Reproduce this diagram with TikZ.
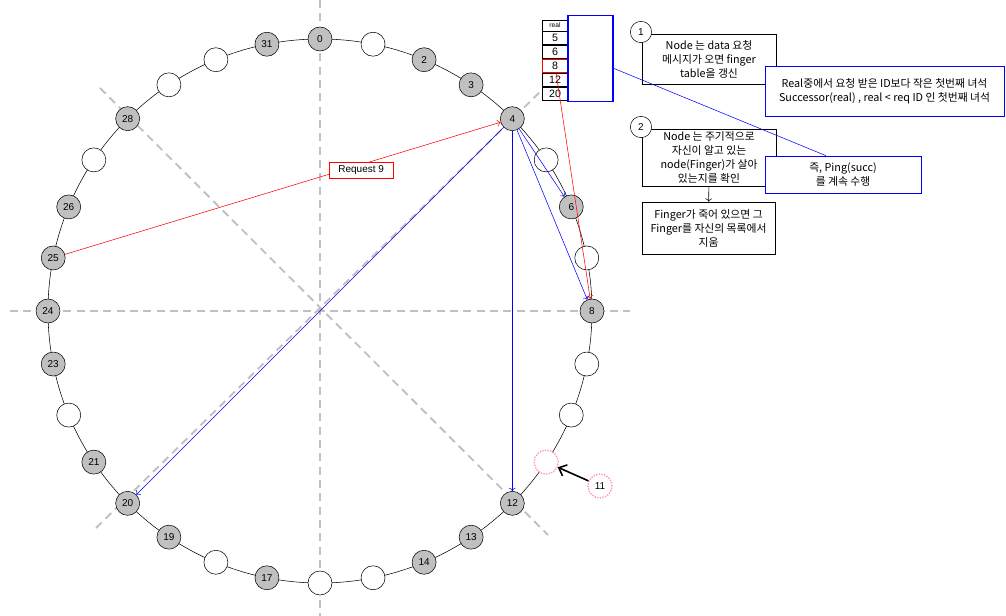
\documentclass[tikz,border=0pt]{standalone}
\usepackage{fontspec}
\setmainfont{Liberation Sans}
\newfontfamily\kr{Noto Sans CJK KR}
\usetikzlibrary{positioning,arrows.meta}
\definecolor{guidegray}{RGB}{192,192,192}
\definecolor{peergray}{RGB}{192,192,192}
\definecolor{newpink}{RGB}{255,140,200}

\begin{document}
\begin{tikzpicture}[x=0.75pt,y=-0.75pt]
	\tikzset{peer/.style = {shape=circle, draw, fill=peergray, minimum size=18pt, inner sep=0pt, font=\fontsize{7.5}{8}\selectfont},
		hole/.style = {shape=circle, draw, fill=white, minimum size=18pt, inner sep=0pt},
		joiner/.style = {hole, draw=newpink, densely dotted, line width=1pt, font=\fontsize{7.5}{8}\selectfont},
		guide/.style = {draw=guidegray, line width=1.4pt, dash pattern=on 6pt off 4pt},
		cell/.style = {draw, fill=white, minimum width=19.5pt, minimum height=10pt, inner sep=0pt, font=\fontsize{8}{9}\selectfont},
		note/.style = {draw, fill=white, align=center, inner sep=0pt, font=\kr\fontsize{8.1}{10.5}\selectfont},
		stepno/.style = {shape=circle, draw, fill=white, minimum size=16pt, inner sep=0pt, font=\fontsize{7.5}{8}\selectfont}}

	\useasboundingbox (0,0) rectangle (1006,616);

	\draw[guide] (320,0) -- (320,616);
	\draw[guide] (10,311) -- (630,311);
	\draw[guide] (100,88) -- (548,535);
	\draw[guide] (96,528) -- (548,84);

	\draw (320,311) circle [radius=272];

	\foreach \k in {0,2,3,4,6,8,12,13,14,17,19,20,21,23,24,25,26,28,31}
		\node[peer] (n\k) at ({320+272*sin(\k*11.25)},{311-272*cos(\k*11.25)}) {\k};
	\foreach \k in {1,5,7,9,10,15,16,18,22,27,29,30}
		\node[hole] (n\k) at ({320+272*sin(\k*11.25)},{311-272*cos(\k*11.25)}) {};
	\node[joiner] (n11) at ({320+272*sin(123.75)},{311-272*cos(123.75)}) {};
	\node[joiner] (new) at (600,486) {11};
	\draw[-{Straight Barb[length=5pt,width=9pt]}, line width=1.2pt] (new) -- (n11);

	\draw[red,->] (n25) -- node[draw=red, fill=white, text=black, minimum width=48pt, minimum height=12pt, inner sep=0pt, font=\fontsize{7.5}{8}\selectfont, pos=0.68, yshift=-4pt] {Request 9} (n4);

	\draw[blue,->] (n4) -- (n6);
	\draw[blue,->] (n4) -- (n8);
	\draw[blue,->] (n4) -- (n12);
	\draw[blue,->] (n4) -- (n20);

	\node[cell, minimum height=8pt, font=\fontsize{5}{6}\selectfont] (freal) at (555,25.5) {real};
	\node[cell, below=0pt of freal] (f5) {5};
	\node[cell, below=0pt of f5] (f6) {6};
	\node[cell, below=0pt of f6, draw=red] (f8) {8};
	\node[cell, below=0pt of f8] (f12) {12};
	\node[cell, below=0pt of f12] (f20) {20};
	\node[draw=blue, line width=0.9pt, minimum width=33.75pt, minimum height=65pt, inner sep=0pt] (fbox) at (590.5,58.5) {};
	\draw[red,->] (f8) -- (n8);

	\node[note, minimum width=100.5pt, minimum height=37.5pt] (b1) at (709,59) {Node 는 data 요청\\메시지가 오면 finger\\table을 갱신};
	\node[stepno] (s1) at (641,32) {1};
	\node[note, draw=blue, minimum width=179pt, minimum height=37.5pt] (succ) at (884.5,91) {Real중에서 요청 받은 ID보다 작은 첫번째 녀석\\Successor(real) , real < req ID 인 첫번째 녀석};

	\node[note, minimum width=100.5pt, minimum height=42.75pt] (b2) at (709,157.5) {Node 는 주기적으로\\자신이 알고 있는\\node(Finger)가 살아\\있는지를 확인};
	\node[stepno] (s2) at (641,127) {2};
	\node[note, draw=blue, minimum width=117pt, minimum height=27.75pt] (ping) at (843,174.5) {즉, Ping(succ)\\를 계속 수행};
	\node[note, minimum width=99.75pt, minimum height=39pt] (b3) at (708.5,228) {Finger가 죽어 있으면 그\\Finger를 자신의 목록에서\\지움};
	\draw[->] (b2) -- (b3);

	\draw[blue] (fbox.-23) -- (ping.132);

\end{tikzpicture}
\end{document}
